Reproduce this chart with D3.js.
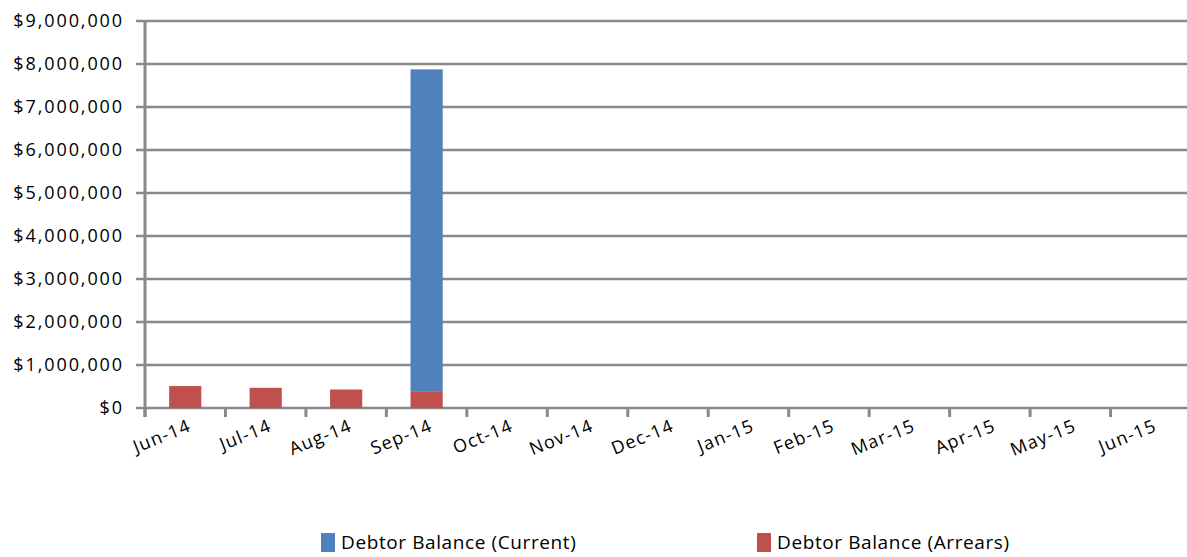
<!DOCTYPE html>
<html lang="en">
<head>
<meta charset="UTF-8">
<title>Debtor Balance</title>
<script src="https://cdn.jsdelivr.net/npm/d3@7"></script>
<style>
  body { margin: 0; background: #fff; }
  text { font-family: "Open Sans", Lato, sans-serif; fill: #000; }
</style>
</head>
<body>
<svg id="main" width="1187" height="557"></svg>
<script>
    const months = ['Jun-14', 'Jul-14', 'Aug-14', 'Sep-14', 'Oct-14', 'Nov-14', 'Dec-14',
        'Jan-15', 'Feb-15', 'Mar-15', 'Apr-15', 'May-15', 'Jun-15'];
    const current = [0, 0, 0, 7500000, 0, 0, 0, 0, 0, 0, 0, 0, 0];
    const arrears = [510000, 470000, 430000, 375000, 0, 0, 0, 0, 0, 0, 0, 0, 0];
    const yTicks = [0, 1000000, 2000000, 3000000, 4000000, 5000000, 6000000, 7000000, 8000000, 9000000];
    const seriesNames = ['Debtor Balance (Current)', 'Debtor Balance (Arrears)'];
    const colors = ['#4f81bd', '#c0504d'];

    let svg = d3.select('svg#main');
    let plotLeft = 145, plotRight = 1191, plotTop = 21, plotBottom = 408;

    let x = d3.scaleBand().domain(months).range([plotLeft, plotRight]).paddingInner(0.6).paddingOuter(0.3);
    let y = d3.scaleLinear().domain([0, 9000000]).range([plotBottom, plotTop]);

    // gridlines
    svg.append('g').selectAll('line').data(yTicks).enter().append('line')
        .attr('x1', plotLeft - 9).attr('x2', plotRight)
        .attr('y1', d => y(d)).attr('y2', d => y(d))
        .attr('stroke', '#898989').attr('stroke-width', 2.5);

    // stacked bars: arrears at the bottom, current on top
    let data = months.map((m, i) => ({month: m, arrears: arrears[i], current: current[i]}));
    let stack = d3.stack().keys(['arrears', 'current'])(data);
    let fill = {arrears: colors[1], current: colors[0]};
    stack.forEach(layer => {
        svg.append('g').selectAll('rect').data(layer.filter(d => d[1] > d[0])).enter().append('rect')
            .attr('x', d => x(d.data.month))
            .attr('width', x.bandwidth())
            .attr('y', d => y(d[1]))
            .attr('height', d => y(d[0]) - y(d[1]))
            .attr('fill', fill[layer.key]);
    });

    // y axis line
    svg.append('line').attr('x1', plotLeft).attr('x2', plotLeft).attr('y1', plotTop).attr('y2', plotBottom + 9)
        .attr('stroke', '#898989').attr('stroke-width', 3);

    // y labels
    svg.append('g').selectAll('text').data(yTicks).enter().append('text')
        .attr('x', 124).attr('y', d => y(d))
        .attr('dy', '0.36em').attr('text-anchor', 'end')
        .style('font-size', '18px').style('letter-spacing', '1.9px')
        .text(d => d3.format('$,')(d));

    // x ticks
    let step = x.step();
    svg.append('g').selectAll('line').data(d3.range(months.length + 1)).enter().append('line')
        .attr('x1', i => plotLeft + i * step).attr('x2', i => plotLeft + i * step)
        .attr('y1', plotBottom).attr('y2', plotBottom + 9)
        .attr('stroke', '#898989').attr('stroke-width', 3);

    // x labels
    svg.append('g').selectAll('text').data(months).enter().append('text')
        .attr('transform', d => 'translate(' + (x(d) + x.bandwidth() / 2 + 2) + ',' + (plotBottom + 10) + ') rotate(-22)')
        .attr('text-anchor', 'end')
        .attr('dy', '0.75em')
        .style('font-size', '18px').style('letter-spacing', '1.2px')
        .text(d => d);

    // legend
    let legendX = [321, 757];
    let legend = svg.selectAll('.legend').data(seriesNames).enter().append('g')
        .attr('class', 'legend')
        .attr('transform', (d, i) => 'translate(' + legendX[i] + ',533)');
    legend.append('rect').attr('width', 14).attr('height', 19).attr('fill', (d, i) => colors[i]);
    legend.append('text').attr('x', 20).attr('y', 16)
        .style('font-size', '19px').style('letter-spacing', '0.6px')
        .text(d => d);
</script>
</body>
</html>
